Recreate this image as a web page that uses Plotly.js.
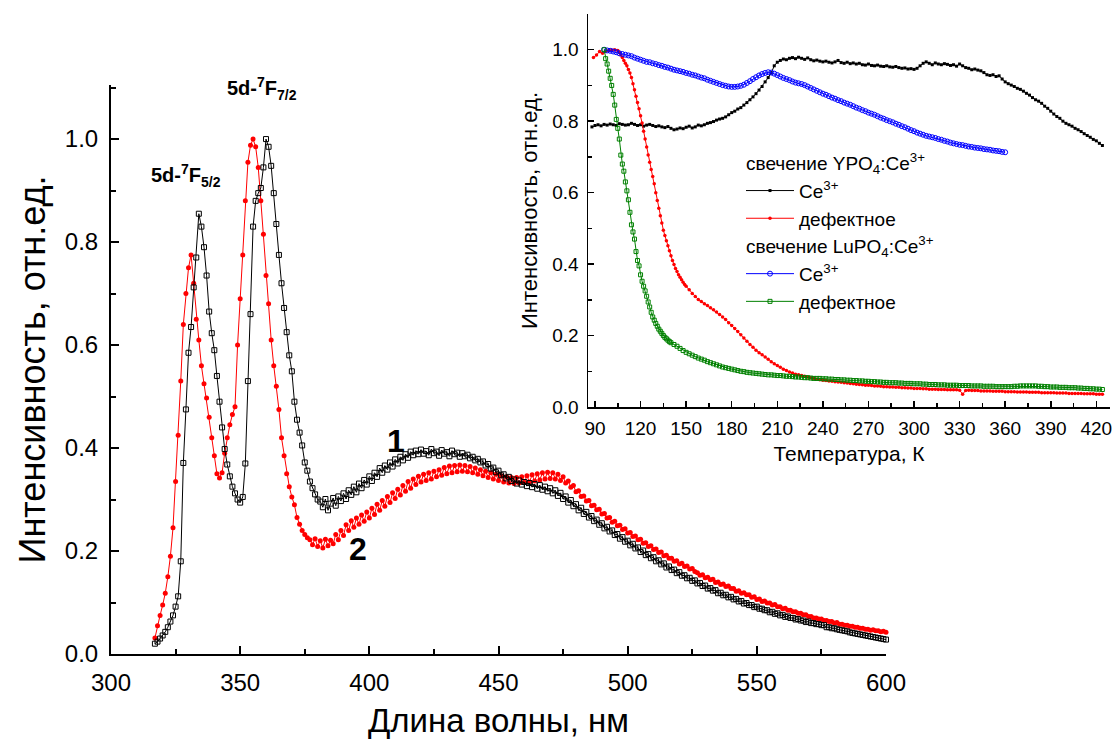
<!DOCTYPE html>
<html>
<head>
<meta charset="utf-8">
<script src="https://cdn.plot.ly/plotly-3.0.1.min.js"></script>
<style>html,body{margin:0;padding:0;background:#fff;}#chart{width:1114px;height:749px;}</style>
</head>
<body>
<div id="chart"></div>
<script>
// ---------------- main spectrum (wavelength, nm) ----------------
const wlStart = 317, wlStep = 1;
// curve 1 (black, open squares)
const spec1 = [
0.020,0.024,0.030,0.036,0.043,0.052,0.063,0.075,0.092,0.112,
0.180,0.371,0.475,0.585,0.635,0.712,0.770,0.855,0.830,0.790,
0.735,0.665,0.623,0.590,0.540,0.490,0.440,0.398,0.368,0.345,
0.325,0.312,0.300,0.294,0.305,0.370,0.530,0.660,0.830,0.880,
0.895,0.905,0.945,1.000,0.985,0.948,0.895,0.835,0.775,0.720,
0.672,0.625,0.580,0.549,0.490,0.455,0.430,0.405,0.372,0.356,
0.335,0.322,0.310,0.300,0.296,0.285,0.301,0.279,0.292,0.303,
0.288,0.306,0.297,0.312,0.301,0.318,0.309,0.325,0.314,0.331,
0.322,0.338,0.329,0.345,0.336,0.352,0.344,0.361,0.352,0.366,
0.358,0.372,0.364,0.378,0.370,0.383,0.376,0.388,0.381,0.393,
0.386,0.395,0.388,0.397,0.389,0.394,0.386,0.398,0.390,0.393,
0.385,0.396,0.389,0.392,0.384,0.395,0.388,0.391,0.383,0.390,
0.384,0.387,0.380,0.383,0.376,0.379,0.372,0.374,0.366,0.369,
0.360,0.362,0.353,0.356,0.347,0.349,0.341,0.344,0.336,0.339,
0.331,0.337,0.329,0.334,0.326,0.332,0.324,0.330,0.321,0.328,
0.319,0.325,0.316,0.322,0.312,0.318,0.307,0.313,0.301,0.306,
0.294,0.299,0.287,0.291,0.279,0.284,0.272,0.276,0.265,0.268,
0.258,0.261,0.251,0.254,0.244,0.247,0.238,0.240,0.231,0.233,
0.224,0.227,0.218,0.220,0.211,0.214,0.205,0.207,0.198,0.201,
0.192,0.194,0.186,0.188,0.180,0.182,0.174,0.176,0.168,0.170,
0.163,0.164,0.157,0.159,0.152,0.153,0.147,0.148,0.142,0.143,
0.137,0.138,0.132,0.133,0.127,0.128,0.123,0.124,0.118,0.119,
0.114,0.115,0.110,0.111,0.106,0.107,0.102,0.103,0.098,0.099,
0.095,0.095,0.091,0.092,0.088,0.088,0.085,0.085,0.081,0.082,
0.078,0.079,0.075,0.076,0.072,0.073,0.070,0.070,0.067,0.068,
0.065,0.065,0.062,0.063,0.060,0.060,0.058,0.058,0.056,0.056,
0.052,0.052,0.050,0.050,0.048,0.047,0.046,0.045,0.044,0.042,
0.041,0.040,0.039,0.038,0.037,0.036,0.035,0.034,0.033,0.032,
0.031,0.030,0.029,0.028
];
// curve 2 (red, filled circles)
const spec2 = [
0.031,0.055,0.075,0.095,0.118,0.150,0.190,0.245,0.335,0.425,
0.530,0.640,0.700,0.750,0.775,0.720,0.650,0.610,0.560,0.525,
0.497,0.460,0.420,0.385,0.350,0.342,0.352,0.390,0.420,0.445,
0.465,0.480,0.600,0.690,0.775,0.880,0.955,0.988,1.000,0.985,
0.945,0.880,0.815,0.735,0.680,0.610,0.560,0.520,0.475,0.420,
0.385,0.350,0.325,0.305,0.290,0.265,0.252,0.240,0.232,0.226,
0.222,0.212,0.224,0.209,0.220,0.206,0.223,0.210,0.221,0.214,
0.232,0.222,0.240,0.230,0.251,0.240,0.259,0.246,0.264,0.252,
0.270,0.258,0.276,0.264,0.283,0.271,0.291,0.279,0.298,0.287,
0.306,0.294,0.313,0.302,0.320,0.309,0.327,0.316,0.335,0.322,
0.340,0.329,0.345,0.334,0.349,0.337,0.352,0.340,0.355,0.344,
0.358,0.347,0.362,0.350,0.365,0.352,0.366,0.354,0.367,0.355,
0.366,0.354,0.364,0.352,0.361,0.349,0.358,0.346,0.355,0.343,
0.352,0.340,0.349,0.337,0.346,0.334,0.344,0.332,0.343,0.331,
0.343,0.332,0.344,0.333,0.346,0.334,0.348,0.336,0.350,0.338,
0.352,0.340,0.353,0.341,0.352,0.340,0.349,0.337,0.344,0.332,
0.336,0.324,0.327,0.315,0.317,0.306,0.307,0.297,0.298,0.288,
0.289,0.280,0.281,0.272,0.273,0.264,0.265,0.256,0.258,0.249,
0.250,0.242,0.243,0.235,0.236,0.228,0.229,0.222,0.223,0.215,
0.216,0.209,0.210,0.203,0.204,0.197,0.198,0.191,0.192,0.186,
0.186,0.180,0.181,0.175,0.176,0.170,0.171,0.165,0.166,0.160,
0.158,0.153,0.154,0.148,0.149,0.144,0.145,0.139,0.140,0.135,
0.136,0.131,0.132,0.127,0.127,0.122,0.123,0.118,0.119,0.115,
0.115,0.110,0.111,0.106,0.107,0.102,0.103,0.099,0.099,0.095,
0.096,0.092,0.092,0.088,0.089,0.085,0.085,0.082,0.082,0.079,
0.079,0.076,0.076,0.073,0.073,0.070,0.070,0.068,0.068,0.065,
0.065,0.063,0.063,0.060,0.061,0.058,0.058,0.056,0.056,0.054,
0.054,0.052,0.052,0.050,0.050,0.048,0.048,0.046,0.047,0.045,
0.045,0.043,0.044,0.042
];

// ---------------- inset: temperature dependence (K) ----------------
// YPO4:Ce3+  Ce3+ (black), T from 88 step 2
const yCeStart = 88, yCeStep = 2;
const yCe = [
0.784,0.788,0.790,0.787,0.791,0.789,0.792,0.790,0.788,0.793,
0.791,0.789,0.790,0.794,0.791,0.788,0.790,0.786,0.789,0.791,
0.788,0.785,0.787,0.784,0.782,0.785,
0.780,0.776,0.778,0.781,0.779,0.783,0.786,0.781,0.784,0.789,0.787,
0.790,0.794,0.796,0.799,0.803,0.806,0.808,0.812,0.818,0.824,
0.828,0.834,0.838,0.845,0.852,0.860,0.868,0.877,0.887,0.897,
0.910,0.922,0.935,0.955,0.965,0.970,0.974,0.972,0.976,0.978,
0.975,0.979,0.976,0.973,0.977,0.972,0.969,0.971,0.968,0.966,
0.968,0.965,0.963,0.966,0.970,0.964,0.962,0.965,0.961,0.963,
0.960,0.962,0.958,0.957,0.960,0.956,0.955,0.957,0.954,0.953,
0.955,0.952,0.951,0.953,0.950,0.948,0.949,0.946,0.947,0.945,
0.948,0.955,0.962,0.966,0.962,0.958,0.963,0.960,0.958,0.961,
0.959,0.956,0.958,0.954,0.960,0.955,0.950,0.948,0.944,0.946,
0.943,0.941,0.936,0.930,0.928,0.930,0.925,0.927,0.918,0.910,
0.905,0.901,0.897,0.892,0.889,0.884,0.878,0.873,0.866,0.860,
0.856,0.850,0.842,0.836,0.828,0.820,0.813,0.808,0.800,0.794,
0.790,0.786,0.780,0.776,0.771,0.765,0.760,0.755,0.749,0.745,
0.738,0.732
];
// YPO4:Ce3+ defect (red): three sampling segments
const yDefA_T0 = 89,  yDefA_step = 2;
const yDefA = [0.978,0.985,0.995,0.990,0.996,0.998,0.999,1.000,0.998];
const yDefB_T0 = 106, yDefB_step = 1;
const yDefB = [
0.992,0.985,0.978,0.970,0.962,0.955,0.945,0.935,0.922,0.905,
0.888,0.870,0.852,0.835,0.815,0.795,0.772,0.750,0.728,0.705,
0.685,0.665,0.645,0.625,0.600,0.578,0.556,0.535,0.515,0.495,
0.480,0.465,0.451,0.437,0.423,0.410,0.399,0.388,0.379,0.370,
0.363,0.356,0.349,0.343,0.338
];
const yDefC_T0 = 152, yDefC_step = 2;
const yDefC = [
0.328,0.318,0.309,0.301,0.295,0.289,0.284,0.278,0.272,0.266,
0.259,0.252,0.245,0.236,0.228,0.220,0.211,0.202,0.193,0.184,
0.175,0.167,0.159,0.152,0.146,0.140,0.134,0.127,0.121,0.116,
0.111,0.106,0.102,0.098,0.095,0.092,0.090,0.088,0.086,0.084,
0.082,0.080,0.078,0.076,0.075,0.074,0.073,0.072,0.071,0.070,
0.069,0.068,0.067,0.066,0.065,0.064,0.063,0.062,0.061,0.061,
0.060,0.059,0.059,0.058,0.057,0.057,0.056,0.056,0.055,0.055,
0.054,0.054,0.053,0.053,0.052,0.052,0.052,0.051,0.051,0.050,
0.050,0.050,0.049,0.049,0.049,0.048,0.048,0.048,0.048,0.047,
0.036,0.046,0.047,0.046,0.046,0.046,0.045,0.045,0.045,0.045,
0.044,0.044,0.044,0.044,0.043,0.043,0.043,0.043,0.042,0.042,
0.042,0.042,0.041,0.041,0.041,0.041,0.040,0.040,0.040,0.040,
0.040,0.039,0.039,0.039,0.039,0.038,0.038,0.038,0.038,0.038,
0.037,0.037,0.037,0.037,0.036,0.036,0.036
];
// LuPO4:Ce3+  Ce3+ (blue), T from 96 step 2
const luCeStart = 96, luCeStep = 2;
const luCe = [
1.000,0.998,0.997,0.995,0.993,0.990,0.988,0.986,0.984,0.982,0.978,0.975,0.972,
0.969,0.966,0.965,0.962,0.960,0.957,0.955,0.952,0.950,0.947,
0.944,0.942,0.940,0.938,0.935,0.933,0.930,0.928,0.925,0.922,
0.920,0.916,0.913,0.910,0.907,0.904,0.901,0.899,0.897,0.896,
0.896,0.897,0.899,0.902,0.907,0.912,0.918,0.923,0.928,0.932,
0.935,0.937,0.936,0.933,0.929,0.925,0.921,0.918,0.915,0.911,
0.908,0.906,0.904,0.901,0.897,0.893,0.889,0.885,0.881,0.877,
0.874,0.870,0.866,0.863,0.859,0.856,0.852,0.849,0.846,0.842,
0.838,0.835,0.831,0.828,0.824,0.821,0.818,0.814,0.810,0.807,
0.803,0.800,0.797,0.793,0.790,0.786,0.783,0.779,0.775,0.772,
0.768,0.765,0.762,0.759,0.757,0.755,0.753,0.750,0.748,0.745,
0.743,0.740,0.738,0.736,0.734,0.733,0.731,0.729,0.728,0.726,
0.725,0.724,0.722,0.721,0.720,0.718,0.717,0.716,0.714,0.713
];
// LuPO4:Ce3+ defect (green): two sampling segments
const luDefA_T0 = 96, luDefA_step = 1;
const luDefA = [
1.000,0.975,0.960,0.940,0.920,0.900,0.875,0.845,0.805,0.780,
0.750,0.705,0.680,0.660,0.630,0.605,0.580,0.545,0.510,0.490,
0.470,0.435,0.410,0.395,0.370,0.352,0.338,0.325,0.310,0.294,
0.280,0.265,0.252,0.243,0.234,0.226,0.218,0.212,0.206,0.200,
0.195,0.191,0.187,0.183,0.180
];
const luDefB_T0 = 142, luDefB_step = 2;
const luDefB = [
0.175,0.170,0.164,0.158,0.153,0.149,0.145,0.141,0.137,0.134,
0.131,0.127,0.124,0.121,0.118,0.115,0.112,0.110,0.108,0.106,
0.104,0.102,0.100,0.099,0.097,0.096,0.095,0.094,0.093,0.092,
0.091,0.090,0.090,0.089,0.088,0.088,0.087,0.086,0.086,0.085,
0.084,0.084,0.083,0.082,0.082,0.081,0.080,0.080,0.080,0.079,
0.079,0.078,0.078,0.077,0.077,0.076,0.076,0.075,0.075,0.074,
0.074,0.073,0.073,0.072,0.072,0.071,0.071,0.070,0.070,0.069,
0.069,0.068,0.068,0.068,0.067,0.067,0.066,0.066,0.066,0.065,
0.065,0.065,0.064,0.064,0.063,0.063,0.063,0.062,0.062,0.062,
0.061,0.061,0.061,0.061,0.060,0.060,0.060,0.060,0.059,0.059,
0.059,0.059,0.058,0.058,0.058,0.058,0.057,0.057,0.057,0.057,
0.057,0.057,0.058,0.058,0.059,0.059,0.059,0.059,0.059,0.059,
0.058,0.058,0.057,0.057,0.056,0.056,0.056,0.055,0.055,0.055,
0.054,0.054,0.054,0.053,0.053,0.052,0.052,0.051,0.051,0.050,
0.050,0.049
];

const legendLabels = {
  groupY: 'свечение YPO<sub>4</sub>:Ce<sup>3+</sup>',
  groupLu: 'свечение LuPO<sub>4</sub>:Ce<sup>3+</sup>',
  ce: 'Ce<sup>3+</sup>',
  def: 'дефектное'
};

function grid(t0, step, n) { const a = []; for (let i = 0; i < n; i++) a.push(+(t0 + i * step).toFixed(3)); return a; }

const FONT = 'Liberation Sans, Arial, sans-serif';
const W = 1114, H = 749;
const px = x => x / W, py = y => (H - y) / H;

const wl = grid(wlStart, wlStep, spec1.length);

const traces = [
  { x: wl, y: spec2, type: 'scatter', mode: 'lines+markers', xaxis: 'x', yaxis: 'y', showlegend: false, cliponaxis: false,
    line: { color: '#ff0000', width: 1 }, marker: { symbol: 'circle', size: 5, color: '#ff0000' } },
  { x: wl, y: spec1, type: 'scatter', mode: 'lines+markers', xaxis: 'x', yaxis: 'y', showlegend: false, cliponaxis: false,
    line: { color: '#000000', width: 1 }, marker: { symbol: 'square-open', size: 5, color: '#000000', line: { width: 1, color: '#000' } } },

  { x: grid(yCeStart, yCeStep, yCe.length), y: yCe, type: 'scatter', mode: 'lines+markers', xaxis: 'x2', yaxis: 'y2', cliponaxis: false,
    name: legendLabels.ce, legendgroup: 'Y', legendgrouptitle: { text: legendLabels.groupY },
    line: { color: '#000000', width: 1 }, marker: { symbol: 'square', size: 3, color: '#000000' } },
  { x: grid(yDefA_T0, yDefA_step, yDefA.length).concat(grid(yDefB_T0, yDefB_step, yDefB.length), grid(yDefC_T0, yDefC_step, yDefC.length)),
    y: yDefA.concat(yDefB, yDefC), type: 'scatter', mode: 'lines+markers', xaxis: 'x2', yaxis: 'y2', cliponaxis: false,
    name: legendLabels.def, legendgroup: 'Y', legendgrouptitle: { text: legendLabels.groupY },
    line: { color: '#ff0000', width: 1 }, marker: { symbol: 'circle', size: 3.5, color: '#ff0000' } },
  { x: grid(luCeStart, luCeStep, luCe.length), y: luCe, type: 'scatter', mode: 'lines+markers', xaxis: 'x2', yaxis: 'y2', cliponaxis: false,
    name: legendLabels.ce, legendgroup: 'Lu', legendgrouptitle: { text: legendLabels.groupLu },
    line: { color: '#0000ff', width: 1 }, marker: { symbol: 'circle-open', size: 5, color: '#0000ff', line: { width: 1, color: '#0000ff' } } },
  { x: grid(luDefA_T0, luDefA_step, luDefA.length).concat(grid(luDefB_T0, luDefB_step, luDefB.length)),
    y: luDefA.concat(luDefB), type: 'scatter', mode: 'lines+markers', xaxis: 'x2', yaxis: 'y2', cliponaxis: false,
    name: legendLabels.def, legendgroup: 'Lu', legendgrouptitle: { text: legendLabels.groupLu },
    line: { color: '#008000', width: 1 }, marker: { symbol: 'square-open', size: 4, color: '#008000', line: { width: 1, color: '#008000' } } }
];

const axBase = {
  showgrid: false, zeroline: false, showline: true, linecolor: '#000', mirror: false,
  ticks: 'inside', tickcolor: '#000', tickmode: 'linear', color: '#000'
};

const layout = {
  width: W, height: H,
  margin: { l: 0, r: 0, t: 0, b: 0 },
  paper_bgcolor: '#ffffff', plot_bgcolor: 'rgba(0,0,0,0)',
  font: { family: FONT, color: '#000' },
  xaxis: Object.assign({}, axBase, {
    domain: [px(111), px(886)], range: [300, 600], anchor: 'y',
    tick0: 300, dtick: 50, ticklen: 8, tickwidth: 2, linewidth: 2,
    minor: { ticks: 'inside', dtick: 25, tick0: 300, ticklen: 5, tickwidth: 2, tickcolor: '#000' },
    tickfont: { size: 24, family: FONT }, ticklabelstandoff: 6,
    title: { text: 'Длина волны, нм', font: { size: 33, family: FONT }, standoff: 14 }
  }),
  yaxis: Object.assign({}, axBase, {
    domain: [py(654), py(85)], range: [0, 1.105], anchor: 'x',
    tick0: 0, dtick: 0.2, tickformat: '.1f', ticklen: 8, tickwidth: 2, linewidth: 2,
    minor: { ticks: 'inside', dtick: 0.1, tick0: 0, ticklen: 5, tickwidth: 2, tickcolor: '#000' },
    tickfont: { size: 24, family: FONT }, ticklabelstandoff: 6,
    title: { text: 'Интенсивность, отн.ед.', font: { size: 36, family: FONT }, standoff: 8 }
  }),
  xaxis2: Object.assign({}, axBase, {
    domain: [px(588), px(1110)], range: [85.4, 429], anchor: 'y2',
    tick0: 90, dtick: 30, ticklen: 6, tickwidth: 1.5, linewidth: 1.5,
    minor: { ticks: 'inside', dtick: 15, tick0: 90, ticklen: 4, tickwidth: 1.5, tickcolor: '#000' },
    tickfont: { size: 19, family: FONT }, ticklabelstandoff: 4,
    title: { text: 'Температура, К', font: { size: 21, family: FONT }, standoff: 8 }
  }),
  yaxis2: Object.assign({}, axBase, {
    domain: [py(407), py(14)], range: [0, 1.1], anchor: 'x2',
    tick0: 0, dtick: 0.2, tickformat: '.1f', ticklen: 6, tickwidth: 1.5, linewidth: 1.5,
    minor: { ticks: 'inside', dtick: 0.1, tick0: 0, ticklen: 4, tickwidth: 1.5, tickcolor: '#000' },
    tickfont: { size: 19, family: FONT }, ticklabelstandoff: 4,
    title: { text: 'Интенсивность, отн.ед.', font: { size: 22, family: FONT }, standoff: 8 }
  }),
  showlegend: true,
  legend: {
    x: px(741), y: py(144), xanchor: 'left', yanchor: 'top',
    bgcolor: 'rgba(0,0,0,0)', borderwidth: 0,
    font: { size: 19, family: FONT, color: '#000' },
    grouptitlefont: { size: 19, family: FONT, color: '#000' },
    traceorder: 'grouped', tracegroupgap: 0, itemwidth: 48
  },
  annotations: [
    { xref: 'paper', yref: 'paper', x: px(149), y: py(175), xanchor: 'left', yanchor: 'middle', showarrow: false,
      text: '<b>5d-<sup>7</sup>F<sub>5/2</sub></b>', font: { size: 20, family: FONT, color: '#000' } },
    { xref: 'paper', yref: 'paper', x: px(225), y: py(89), xanchor: 'left', yanchor: 'middle', showarrow: false,
      text: '<b>5d-<sup>7</sup>F<sub>7/2</sub></b>', font: { size: 20, family: FONT, color: '#000' } },
    { xref: 'paper', yref: 'paper', x: px(396), y: py(441), xanchor: 'center', yanchor: 'middle', showarrow: false,
      text: '<b>1</b>', font: { size: 32, family: FONT, color: '#000' } },
    { xref: 'paper', yref: 'paper', x: px(358), y: py(549), xanchor: 'center', yanchor: 'middle', showarrow: false,
      text: '<b>2</b>', font: { size: 32, family: FONT, color: '#000' } }
  ]
};

Plotly.newPlot('chart', traces, layout, { displayModeBar: false, staticPlot: true });
</script>
</body>
</html>
